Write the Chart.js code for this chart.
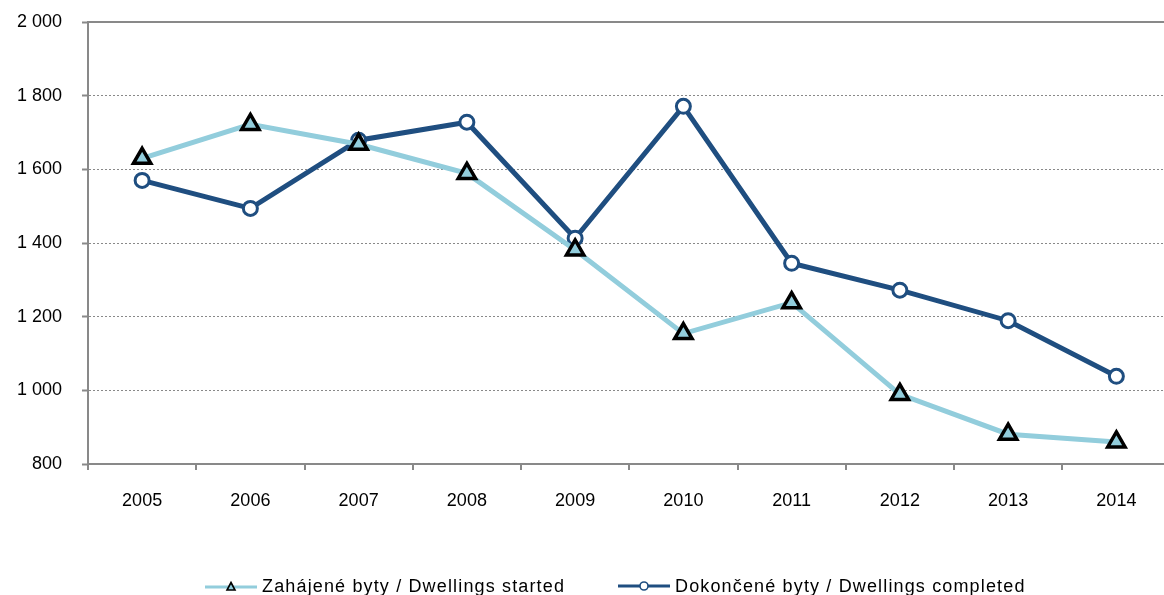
<!DOCTYPE html>
<html lang="cs">
<head>
  <meta charset="UTF-8">
  <title>Byty 2005-2014</title>
  <script src="https://cdn.jsdelivr.net/npm/chart.js"></script>
  <style>
    html, body { margin: 0; padding: 0; background: #fff; overflow: hidden; }
    #wrap { position: absolute; left: 0; top: 0; width: 1184px; height: 595px; }
    .legend {
      position: absolute; top: 574px; left: 0; width: 1164px;
      font-family: "Liberation Sans", Arial, sans-serif; font-size: 18px; color: #000;
      letter-spacing: 1.15px;
    }
    .legend .item { position: absolute; top: 0; display: flex; align-items: center; height: 24px; white-space: nowrap; }
    .legend svg { margin-right: 5px; }
  </style>
</head>
<body>
<div id="wrap"><canvas id="graf" width="1184" height="595"></canvas></div>

<div class="legend">
  <div class="item" style="left:205px">
    <svg width="52" height="14"><line x1="0" y1="8" x2="52" y2="8" stroke="#92CDDC" stroke-width="3"/><polygon points="26,3.5 30,11 22,11" fill="#92CDDC" stroke="#000" stroke-width="1.6"/></svg>
    <span>Zahájené byty / Dwellings started</span>
  </div>
  <div class="item" style="left:618px">
    <svg width="52" height="14"><line x1="0" y1="7" x2="52" y2="7" stroke="#1F4E80" stroke-width="3"/><circle cx="26" cy="7" r="4" fill="#fff" stroke="#1F4E80" stroke-width="1.6"/></svg>
    <span>Dokončené byty / Dwellings completed</span>
  </div>
</div>

<script>
  // data
  const roky = ['2005','2006','2007','2008','2009','2010','2011','2012','2013','2014'];
  const zahajene = [1630, 1722, 1668, 1589, 1381, 1154, 1238, 989, 881, 860];
  const dokoncene = [1570, 1494, 1679, 1728, 1413, 1771, 1345, 1272, 1189, 1038];
  const popisky = ['Zahájené byty / Dwellings started', 'Dokončené byty / Dwellings completed'];

  const font = { family: '"Liberation Sans", Arial, sans-serif', size: 18 };

  // solid line on top of the plot area
  const horniCara = {
    id: 'horniCara',
    beforeDatasetsDraw(chart) {
      const a = chart.chartArea, c = chart.ctx;
      c.save();
      c.strokeStyle = '#898989';
      c.lineWidth = 2;
      c.beginPath();
      c.moveTo(a.left, a.top);
      c.lineTo(a.right, a.top);
      c.stroke();
      c.restore();
    }
  };

  new Chart(document.getElementById('graf').getContext('2d'), {
    type: 'line',
    data: {
      labels: roky,
      datasets: [
        {
          label: popisky[0],
          data: zahajene,
          borderColor: '#92CDDC',
          borderWidth: 5,
          pointStyle: 'triangle',
          pointRadius: 10,
          pointBackgroundColor: '#92CDDC',
          pointBorderColor: '#000',
          pointBorderWidth: 3.5,
          tension: 0
        },
        {
          label: popisky[1],
          data: dokoncene,
          borderColor: '#1F4E80',
          borderWidth: 5,
          pointStyle: 'circle',
          pointRadius: 7,
          pointBackgroundColor: '#fff',
          pointBorderColor: '#1F4E80',
          pointBorderWidth: 3,
          tension: 0
        }
      ]
    },
    options: {
      responsive: false,
      animation: false,
      layout: { padding: { top: 22, right: 0, left: 0, bottom: 0 } },
      plugins: { legend: { display: false }, tooltip: { enabled: false } },
      scales: {
        x: {
          offset: true,
          grid: { offset: true, drawOnChartArea: false, color: '#898989', tickLength: 6, lineWidth: 2 },
          border: { color: '#898989', width: 2 },
          ticks: { color: '#000', font: font, padding: 20, maxRotation: 0 },
          afterFit(s) { s.height = 131; s.paddingLeft = 0; s.paddingRight = 0; }
        },
        y: {
          min: 800,
          max: 2000,
          grid: { color: '#898989', lineWidth: 1, tickLength: 6, tickColor: '#898989', tickWidth: 2, tickBorderDash: [] },
          border: { color: '#898989', width: 2, dash: [2, 2] },
          ticks: {
            stepSize: 200,
            color: '#000',
            font: font,
            padding: 20,
            callback: v => v >= 1000 ? Math.floor(v / 1000) + ' ' + String(v % 1000).padStart(3, '0') : String(v)
          },
          afterFit(s) { s.width = 88; s.paddingTop = 0; s.paddingBottom = 0; }
        }
      }
    },
    plugins: [horniCara]
  });
</script>
</body>
</html>
